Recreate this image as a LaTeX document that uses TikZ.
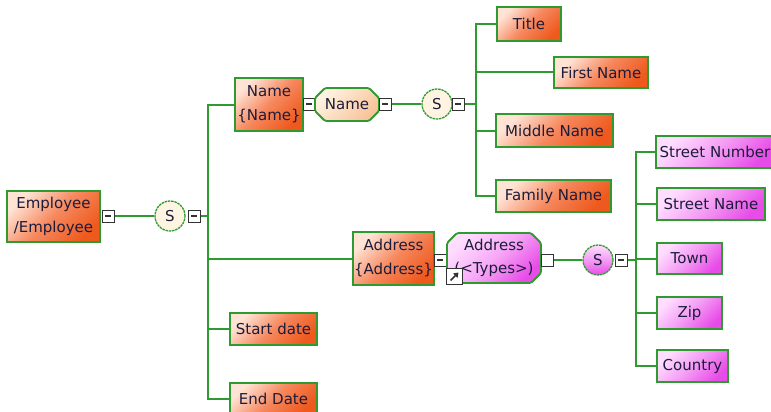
\documentclass[tikz,border=0pt]{standalone}
\usepackage{fontspec}
\setmainfont{DejaVu Sans}
\usepackage{xcolor}
\usepackage{tikz}
\usetikzlibrary{arrows.meta,positioning,shapes.misc}
\definecolor{xsgreen}{HTML}{2F9A2F}
\definecolor{xsink}{HTML}{1C1C3A}
\definecolor{xspeach}{HTML}{FFE4D6}
\definecolor{xssalmon}{HTML}{F6885E}
\definecolor{xsorange}{HTML}{EE5A1E}
\definecolor{xscream}{HTML}{FFF4E2}
\definecolor{xstan}{HTML}{F8C29A}
\definecolor{xsblush}{HTML}{FFDDFF}
\definecolor{xsorchid}{HTML}{F49CF4}
\definecolor{xsmagenta}{HTML}{E84CE8}

\tikzset{
  elem/.style={draw=xsgreen,line width=1.8pt,inner sep=0pt,align=center,text=xsink,
    font=\fontsize{15}{24}\selectfont},
  orangebox/.style={elem,top color=xspeach,bottom color=xsorange,middle color=xssalmon,shading angle=45},
  pinkbox/.style={elem,top color=xsblush,bottom color=xsmagenta,middle color=xsorchid,shading angle=45},
  typebox/.style={elem,chamfered rectangle,chamfered rectangle xsep=5pt,chamfered rectangle ysep=5pt,
    rounded corners=1.5pt},
  seq/.style={circle,draw=xsgreen,line width=1.3pt,dash pattern=on 2.5pt off 0.8pt,minimum size=30pt,
    inner sep=0pt,text=xsink,font=\fontsize{15}{16}\selectfont},
  sq/.style={draw=black!80,fill=white,line width=1pt,minimum size=12pt,inner sep=0pt},
  minus/.style={sq,path picture={\draw[line width=1.2pt,black!80]
    ([xshift=-3pt]path picture bounding box.center) -- ([xshift=3pt]path picture bounding box.center);}},
  link/.style={draw=xsgreen,line width=2pt}
}

\begin{document}
\begin{tikzpicture}[x=1pt,y=-1pt]
\path[fill=white,use as bounding box] (0,0) rectangle (771,412);

\node[orangebox,minimum width=93pt,minimum height=51pt] (emp) at (53.5,216.5) {Employee\\/Employee};
\node[minus] (empm) at (108,216) {};
\node[seq,fill=xscream] (seq1) at (170,216) {S};
\node[minus] (seq1m) at (194,216) {};
\coordinate (j1) at (208,216);

\node[orangebox,minimum width=68pt,minimum height=53pt] (name) at (269,104.5) {Name\\\{Name\}};
\node[minus] (namem) at (309,104) {};
\node[typebox,top color=xscream,bottom color=xstan,shading angle=45,minimum width=64pt,minimum height=33pt] (nametype) at (347,104.5) {Name};
\node[minus] (nametypem) at (385,104) {};
\node[seq,fill=xscream] (seq2) at (437,104) {S};
\node[minus] (seq2m) at (458,104) {};
\coordinate (j2) at (476,104);

\node[orangebox,minimum width=64pt,minimum height=34pt] (title) at (529,24) {Title};
\node[orangebox,minimum width=94pt,minimum height=31pt] (first) at (601,72.5) {First Name};
\node[orangebox,minimum width=117pt,minimum height=33pt] (middle) at (554.5,130.5) {Middle Name};
\node[orangebox,minimum width=115pt,minimum height=32pt] (family) at (553.5,196) {Family Name};

\node[orangebox,minimum width=81pt,minimum height=53pt] (addr) at (393.5,258.5) {Address\\\{Address\}};
\node[minus] (addrm) at (440,260) {};
\node[typebox,top color=xsblush,bottom color=xsmagenta,middle color=xsorchid!80!xsblush,shading angle=45,
  minimum width=94pt,minimum height=50pt,font=\fontsize{15}{23}\selectfont] (addrtype) at (494,258) {Address\\(<Types>)};
\node[sq,minimum size=16pt,path picture={\draw[line width=1.6pt,-{Triangle[length=4.5pt,width=6pt]}]
  ([shift={(-4pt,-4pt)}]path picture bounding box.center) -- ([shift={(4pt,4pt)}]path picture bounding box.center);}]
  (addrref) at (454.5,276.5) {};
\node[sq] (addrtypem) at (547,260) {};
\node[seq,top color=xsblush,bottom color=xsmagenta,middle color=xsorchid] (seq3) at (598,260) {S};
\node[minus] (seq3m) at (621,260) {};
\coordinate (j3) at (636,260);

\node[pinkbox,minimum width=118pt,minimum height=32pt] (stnum) at (715,152) {Street Number};
\node[pinkbox,minimum width=108pt,minimum height=32pt] (stname) at (711,204) {Street Name};
\node[pinkbox,minimum width=65pt,minimum height=31pt] (town) at (689.5,258.5) {Town};
\node[pinkbox,minimum width=65pt,minimum height=32pt] (zip) at (689.5,313) {Zip};
\node[pinkbox,minimum width=71pt,minimum height=32pt] (country) at (692.5,366) {Country};

\node[orangebox,minimum width=87pt,minimum height=32pt] (start) at (273.5,329) {Start date};
\node[orangebox,minimum width=87pt,minimum height=31pt] (end) at (273.5,398.5) {End Date};

\draw[link] (empm.east) -- (seq1.west);
\draw[link] (seq1m.east) -- (j1);
\foreach \c in {name,addr,start,end} \draw[link] (\c.west) -| (j1);
\draw[link] (nametypem.east) -- (seq2.west);
\draw[link] (seq2m.east) -- (j2);
\foreach \c in {title,first,middle,family} \draw[link] (\c.west) -| (j2);
\draw[link] (addrtypem.east) -- (seq3.west);
\draw[link] (seq3m.east) -- (j3);
\foreach \c in {stnum,stname,town,zip,country} \draw[link] (\c.west) -| (j3);
\end{tikzpicture}
\end{document}
